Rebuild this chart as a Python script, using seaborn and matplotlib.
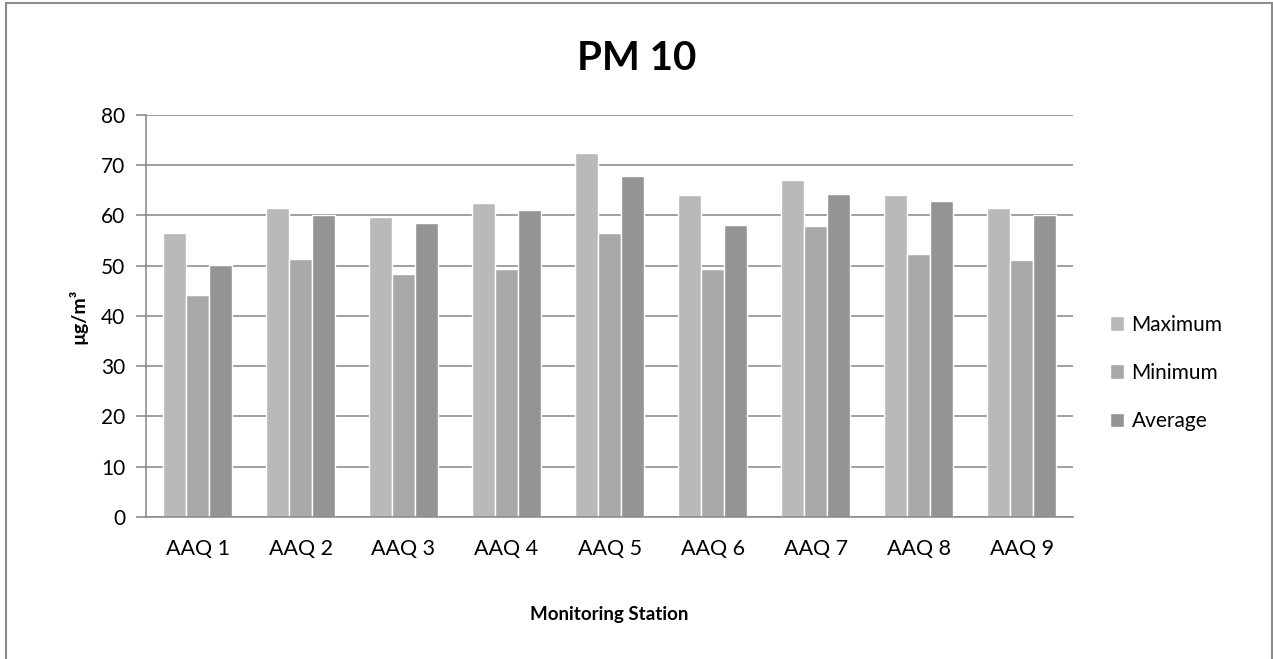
import pandas as pd
import matplotlib.pyplot as plt
import seaborn as sns
from matplotlib.patches import Rectangle

# ------------------ DATA ------------------

stations = ["AAQ 1", "AAQ 2", "AAQ 3", "AAQ 4", "AAQ 5", "AAQ 6", "AAQ 7", "AAQ 8", "AAQ 9"]
maximum = [56.5, 61.4, 59.7, 62.4, 72.4, 64.0, 67.1, 64.0, 61.4]
minimum = [44.1, 51.4, 48.3, 49.3, 56.6, 49.4, 58.0, 52.3, 51.1]
average = [50.1, 60.0, 58.5, 61.1, 67.8, 58.1, 64.2, 62.8, 60.0]

series_names = ["Maximum", "Minimum", "Average"]
colors = ["#B9B9B9", "#A8A8A8", "#949494"]

df = pd.DataFrame({"Station": stations, "Maximum": maximum,
                   "Minimum": minimum, "Average": average})
long_df = df.melt(id_vars="Station", var_name="Series", value_name="Value")

# ------------------ PLOT ------------------

sns.set_style("white")
plt.rcParams["font.family"] = ["Lato", "DejaVu Sans"]
plt.rcParams["text.color"] = "black"
plt.rcParams["xtick.color"] = "black"
plt.rcParams["ytick.color"] = "black"
plt.rcParams["axes.labelcolor"] = "black"

fig = plt.figure(figsize=(12.73, 6.59), dpi=100)
ax = fig.add_axes([0.1147, 0.2155, 0.843 - 0.1147, 0.8255 - 0.2155])

sns.barplot(
    data=long_df, x="Station", y="Value", hue="Series",
    hue_order=series_names, palette=colors, width=0.67,
    saturation=1, ax=ax, legend=True
)

grid_c = "#868686"
ax.set_ylim(0, 80)
ax.set_xlim(-0.5, len(stations) - 0.5)
ax.set_yticks(range(0, 81, 10))
ax.yaxis.grid(True, color=grid_c, linewidth=1.1)
ax.set_axisbelow(True)
for s in ["top", "right"]:
    ax.spines[s].set_visible(False)
ax.spines["left"].set_color(grid_c)
ax.spines["left"].set_linewidth(1.1)
ax.spines["bottom"].set_color(grid_c)
ax.spines["bottom"].set_linewidth(1.1)
ax.tick_params(axis="y", which="both", left=True, length=7, width=1.1,
               color=grid_c, labelcolor="black", labelsize=15, pad=8)
ax.tick_params(axis="x", bottom=False, labelcolor="black", labelsize=15.5, pad=12)

ax.set_xlabel("Monitoring Station", fontsize=13.5, fontweight="bold", labelpad=34)
ax.set_ylabel("µg/m³", fontsize=14, fontweight="bold", labelpad=10)
fig.suptitle("PM 10", fontsize=29, fontweight="bold", y=0.94, color="black")

handles, labels = ax.get_legend_handles_labels()
ax.get_legend().remove()
fig.legend(handles, labels, loc="center left", bbox_to_anchor=(0.857, 0.434),
           frameon=False, fontsize=15, labelspacing=1.36,
           handlelength=0.7, handleheight=0.7, handletextpad=0.35)

# outer chart border
fig.add_artist(Rectangle((0.005, -0.02), 0.994, 1.015, transform=fig.transFigure,
                         fill=False, edgecolor="#8C8C8C", linewidth=1.5))

fig.savefig("out.png", dpi=100)
plt.close(fig)
